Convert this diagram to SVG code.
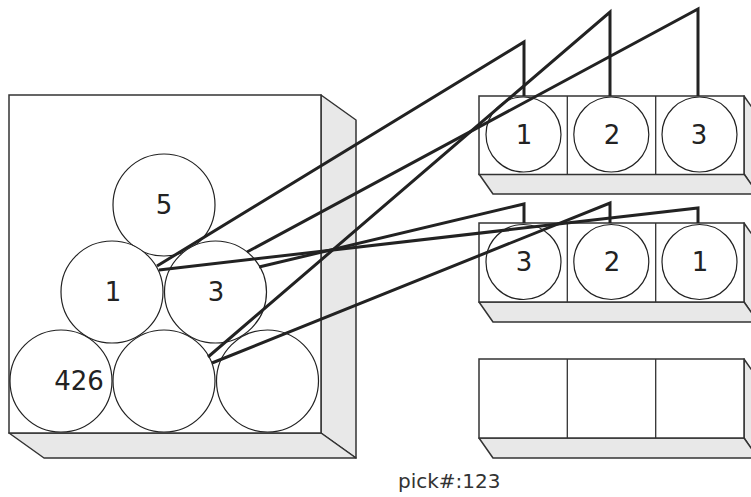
<svg xmlns="http://www.w3.org/2000/svg" width="751" height="497" viewBox="0 0 751 497">
<style>
.front{fill:#fff;stroke:#333;stroke-width:1.5}
.side{fill:#e8e8e8;stroke:#333;stroke-width:1.5;stroke-linejoin:round}
.div{stroke:#333;stroke-width:1.3;fill:none}
.item{fill:#fff;stroke:#222;stroke-width:1.2}
.lbl{font-family:"DejaVu Sans",sans-serif;font-size:26px;fill:#222;text-anchor:middle}
.cap{font-family:"DejaVu Sans",sans-serif;font-size:20px;fill:#333}
.conn{fill:none;stroke:#222;stroke-width:3;stroke-linejoin:miter;stroke-miterlimit:20}
</style>
<rect width="751" height="497" fill="#fff"/>

<g id="bin">
<polygon class="side" points="321,95 356,120 356,458 321,433"/>
<polygon class="side" points="9,433 321,433 356,458 44,458"/>
<rect class="front" x="9" y="95" width="312" height="338"/>
</g>

<g id="item-5"><circle class="item" cx="164" cy="205" r="51"/><text class="lbl" x="164" y="214">5</text></g>
<g id="item-1"><circle class="item" cx="112" cy="292" r="51"/><text class="lbl" x="113" y="301">1</text></g>
<g id="item-3"><circle class="item" cx="215.5" cy="292" r="51"/><text class="lbl" x="216" y="301">3</text></g>
<g id="item-426"><circle class="item" cx="61" cy="381" r="51"/><text class="lbl" x="79" y="390">426</text></g>
<g id="item-b2"><circle class="item" cx="164" cy="381" r="51"/></g>
<g id="item-b3"><circle class="item" cx="267.5" cy="381" r="51"/></g>

<g id="tray-1">
<polygon class="side" points="744,96 758,116 758,194 744,174"/>
<polygon class="side" points="479,174 744,174 758,194 493,194"/>
<rect class="front" x="479" y="96" width="265" height="78.5"/>
<path class="div" d="M567.3,96V174.5M655.7,96V174.5"/>
<circle class="item" cx="523.5" cy="134.5" r="37.5"/><text class="lbl" x="524" y="144">1</text>
<circle class="item" cx="611.3" cy="134.5" r="37.5"/><text class="lbl" x="612" y="144">2</text>
<circle class="item" cx="699.5" cy="134.5" r="37.5"/><text class="lbl" x="699" y="144">3</text>
</g>

<g id="tray-2">
<polygon class="side" points="744,223 758,243 758,322 744,302"/>
<polygon class="side" points="479,302 744,302 758,322 493,322"/>
<rect class="front" x="479" y="223" width="265" height="79"/>
<path class="div" d="M567.3,223V302M655.7,223V302"/>
<circle class="item" cx="523.5" cy="262" r="37.5"/><text class="lbl" x="524" y="271">3</text>
<circle class="item" cx="611.3" cy="262" r="37.5"/><text class="lbl" x="612" y="271">2</text>
<circle class="item" cx="699.5" cy="262" r="37.5"/><text class="lbl" x="700" y="271">1</text>
</g>

<g id="tray-3">
<polygon class="side" points="744,359 758,379 758,458 744,438"/>
<polygon class="side" points="479,438 744,438 758,458 493,458"/>
<rect class="front" x="479" y="359" width="265" height="79"/>
<path class="div" d="M567.3,359V438M655.7,359V438"/>
</g>

<g id="connectors">
<polyline class="conn" points="157,266 524,42 524,96"/>
<polyline class="conn" points="208,357 610,12 610,96"/>
<polyline class="conn" points="247,252 698,9 698,96"/>
<polyline class="conn" points="259,267 524,204 524,223"/>
<polyline class="conn" points="212,363 610,203 610,223"/>
<polyline class="conn" points="159,270 698,208 698,223"/>
</g>

<text id="caption" class="cap" x="398" y="488">pick#:123</text>
</svg>
